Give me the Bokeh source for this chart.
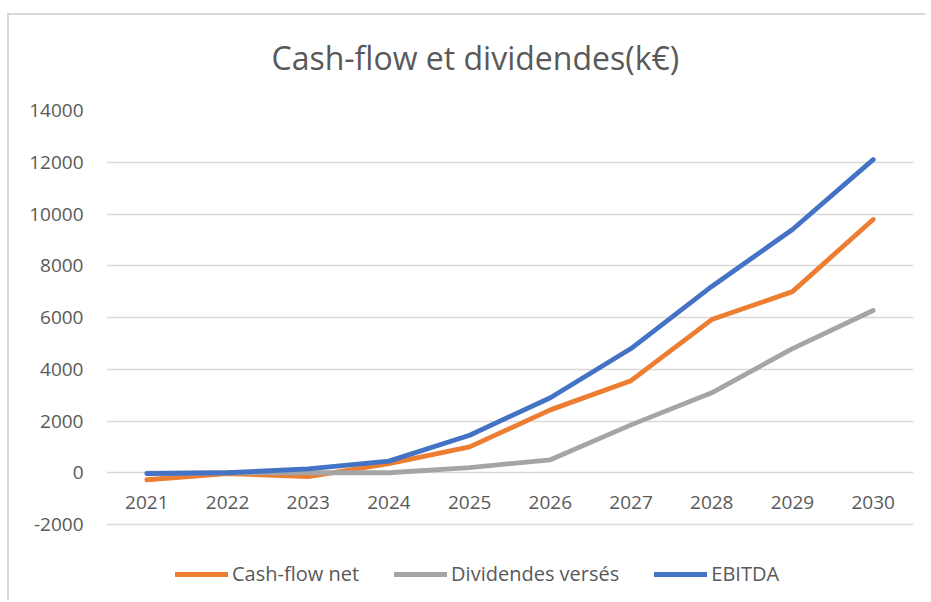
from bokeh.plotting import figure
from bokeh.models import Range1d, FactorRange, FixedTicker, NumeralTickFormatter, Legend, LegendItem
from bokeh.core.properties import value
from bokeh.embed import file_html
from bokeh.resources import INLINE

years = ["2021", "2022", "2023", "2024", "2025", "2026", "2027", "2028", "2029", "2030"]
cash_flow_net = [-270, -30, -150, 350, 1000, 2430, 3560, 5920, 7000, 9790]
dividendes_verses = [-20, 0, 0, 0, 200, 500, 1850, 3090, 4800, 6270]
ebitda = [-30, 0, 150, 450, 1450, 2900, 4800, 7200, 9400, 12100]
y_ticks = [-2000, 0, 2000, 4000, 6000, 8000, 10000, 12000, 14000]

series_names = ["Cash-flow net", "Dividendes versés", "EBITDA"]
series_colors = ["#ED7D31", "#A5A5A5", "#4472C4"]

FONT = "Open Sans"
TXT = "#595959"
GRID = "#D9D9D9"

p = figure(width=925, height=600, x_range=FactorRange(*years, range_padding=0),
           y_range=Range1d(-4937, 14000), output_backend="svg", toolbar_location=None,
           title="Cash-flow et dividendes(k€)", x_axis_location=None)
# chart-area border (top and left edges), drawn behind the transparent canvas margin
p.styles = {
    "background": "linear-gradient(#D9D9D9, #D9D9D9) 7px 13px / 100% 2px no-repeat, "
                  "linear-gradient(#D9D9D9, #D9D9D9) 7px 13px / 2px 100% no-repeat, white"
}
p.min_border_left = 106
p.min_border_right = 12
p.min_border_top = 110
p.min_border_bottom = 0
p.outline_line_color = None
p.background_fill_color = "white"
p.border_fill_color = None

p.title.text_font = FONT
p.title.text_font_size = "32px"
p.title.text_font_style = "normal"
p.title.text_color = TXT
p.title.align = "left"
p.title.offset = 165
p.title.standoff = 64

# y axis
p.yaxis.ticker = FixedTicker(ticks=y_ticks)
p.yaxis.formatter = NumeralTickFormatter(format="0")
p.yaxis.axis_line_color = None
p.yaxis.major_tick_line_color = None
p.yaxis.minor_tick_line_color = None
p.yaxis.major_label_text_font = FONT
p.yaxis.major_label_text_font_size = "19px"
p.yaxis.major_label_text_color = TXT
p.yaxis.major_label_standoff = 17

p.ygrid.ticker = FixedTicker(ticks=y_ticks)
p.ygrid.grid_line_color = GRID
p.ygrid.grid_line_width = 1.5
p.xgrid.grid_line_color = None

# category labels under the zero line
p.text(x=years, y=[0] * len(years), text=years, y_offset=30,
       text_align="center", text_baseline="middle", text_font=value(FONT),
       text_font_size=value("19px"), text_color=TXT)

items = []
for name, vals, col in zip(series_names, [cash_flow_net, dividendes_verses, ebitda], series_colors):
    r = p.line(years, vals, line_color=col, line_width=4.8, line_cap="round", line_join="round")
    items.append(LegendItem(label=name, renderers=[r]))

legend = Legend(items=items, orientation="horizontal", location=(69, 13))
legend.glyph_width = 53
legend.glyph_height = 20
legend.label_standoff = 4
legend.spacing = 35
legend.padding = 0
legend.margin = 0
legend.border_line_color = None
legend.background_fill_alpha = 0
legend.label_text_font = FONT
legend.label_text_font_size = "20px"
legend.label_text_color = TXT
p.add_layout(legend, "center")

open("out.html", "w").write(file_html(p, INLINE))
